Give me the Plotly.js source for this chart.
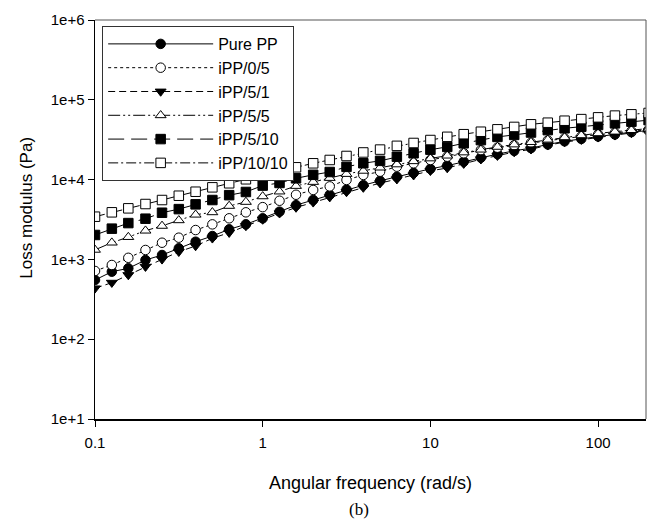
<!DOCTYPE html>
<html>
<head>
<meta charset="utf-8">
<script src="https://cdn.plot.ly/plotly-3.0.1.min.js"></script>
<style>html,body{margin:0;padding:0;background:#fff;}#chart{width:647px;height:520px;}</style>
</head>
<body>
<div id="chart"></div>
<script>
// Angular frequency (rad/s)
var freq = [0.1, 0.126, 0.158, 0.2, 0.251, 0.316, 0.398, 0.501, 0.631, 0.794,
            1, 1.26, 1.58, 2, 2.51, 3.16, 3.98, 5.01, 6.31, 7.94,
            10, 12.6, 15.8, 20, 25.1, 31.6, 39.8, 50.1, 63.1, 79.4,
            100, 126, 158, 200];

// Loss modulus (Pa)
var purePP = [552, 701, 773, 982, 1135, 1377, 1667, 1963, 2382, 2754,
              3273, 3963, 4786, 5559, 6457, 7499, 8511, 9661, 10840, 12160,
              13650, 14960, 16790, 18840, 20890, 22910, 24830, 27540, 30200, 32360,
              34670, 36730, 39360, 41210];
var iPP_0_5 = [716, 851, 1047, 1312, 1618, 1871, 2333, 2748, 3273, 3890,
               4519, 5433, 6457, 7413, 8222, 9886, 11430, 12560, 14520, 16000,
               17620, 19360, 21380, 23440, 25120, 26920, 28840, 30900, 32730, 34670,
               36730, 38460, 40270, 42170];
var iPP_5_1 = [434, 511, 637, 811, 1002, 1247, 1472, 1837, 2163, 2624,
               3162, 3784, 4467, 5188, 6026, 6998, 7943, 9016, 10120, 11350,
               12880, 13960, 15850, 17990, 19950, 22130, 23990, 26920, 29510, 31620,
               33880, 35890, 38460, 40270];
var iPP_5_5 = [1318, 1622, 1905, 2291, 2630, 3090, 3631, 3890, 4677, 5248,
               6166, 7079, 8318, 9333, 10470, 11750, 12880, 14130, 15490, 16980,
               18410, 19950, 21880, 23710, 25700, 27540, 29510, 31620, 33880, 35890,
               38020, 39810, 41690, 43650];
var iPP_5_10 = [2023, 2427, 2851, 3236, 3846, 4266, 4898, 5546, 6383, 6998,
                8414, 9078, 10380, 11480, 12450, 14450, 16030, 17180, 19360, 21380,
                23710, 25700, 28510, 31260, 34280, 36310, 38900, 41690, 43950, 46030,
                48310, 50700, 53210, 55590];
var iPP_10_10 = [3428, 3890, 4365, 4943, 5546, 6281, 7047, 7998, 8995, 10090,
                 11530, 12760, 14260, 16000, 17620, 19770, 21880, 23770, 26490, 28770,
                 31330, 34360, 37070, 39810, 42660, 45710, 49320, 51640, 54700, 57280,
                 60260, 63390, 65770, 68390];

var seriesNames = ['Pure PP', 'iPP/0/5', 'iPP/5/1', 'iPP/5/5', 'iPP/5/10', 'iPP/10/10'];
var yTickVals = [10, 100, 1000, 10000, 100000, 1000000];
var yTickText = ['1e+1', '1e+2', '1e+3', '1e+4', '1e+5', '1e+6'];
var xTickVals = [0.1, 1, 10, 100];
var xTickText = ['0.1', '1', '10', '100'];

var seriesData = [purePP, iPP_0_5, iPP_5_1, iPP_5_5, iPP_5_10, iPP_10_10];
var styles = [
  {dash: 'solid', symbol: 'circle', fill: '#000'},
  {dash: 'dot', symbol: 'circle', fill: '#fff'},
  {dash: '7px,4px', symbol: 'triangle-down', fill: '#000'},
  {dash: '12px,3px,2px,3px,2px,3px', symbol: 'triangle-up', fill: '#fff'},
  {dash: '16px,7px', symbol: 'square', fill: '#000'},
  {dash: '10px,3px,2px,3px', symbol: 'square', fill: '#fff'}
];

var traces = seriesData.map(function (ys, i) {
  return {
    x: freq, y: ys, name: seriesNames[i], type: 'scatter', mode: 'lines+markers',
    line: {color: '#000', width: 1, dash: styles[i].dash},
    marker: {symbol: styles[i].symbol, size: 9.5, color: styles[i].fill,
             line: {color: '#000', width: 1}},
    cliponaxis: true
  };
});

var font = 'Liberation Sans, Arial, sans-serif';
var layout = {
  width: 647, height: 520,
  margin: {l: 95, r: 1, t: 20, b: 101},
  paper_bgcolor: '#fff', plot_bgcolor: '#fff',
  font: {family: font, size: 15, color: '#000'},
  showlegend: true,
  legend: {x: 0.013, y: 0.985, xanchor: 'left', yanchor: 'top',
           bgcolor: '#fff', bordercolor: '#333', borderwidth: 1,
           font: {family: font, size: 16, color: '#000'}, itemwidth: 105,
           tracegroupgap: 0},
  xaxis: {type: 'log', range: [-1, 2.2856], showgrid: false, zeroline: false,
          showline: true, linecolor: '#000', linewidth: 1.5,
          ticks: 'outside', ticklen: 6, tickcolor: '#000', tickwidth: 1,
          tickvals: xTickVals, ticktext: xTickText, ticklabelstandoff: 3,
          tickfont: {family: font, size: 15}},
  yaxis: {type: 'log', range: [1, 6], showgrid: false, zeroline: false,
          showline: true, linecolor: '#000', linewidth: 1.5,
          ticks: 'outside', ticklen: 6, tickcolor: '#000', tickwidth: 1,
          tickvals: yTickVals, ticktext: yTickText,
          tickfont: {family: font, size: 15}},
  shapes: [
    {type: 'line', xref: 'paper', yref: 'paper', x0: 0, x1: 1, y0: 1, y1: 1,
     line: {color: '#555', width: 1}},
    {type: 'line', xref: 'paper', yref: 'paper', x0: 1, x1: 1, y0: 0, y1: 1,
     line: {color: '#555', width: 1}}
  ],
  annotations: [
    {text: 'Angular frequency (rad/s)', xref: 'paper', yref: 'paper', x: 0.5, y: -0.160,
     xanchor: 'center', yanchor: 'middle', showarrow: false,
     font: {family: font, size: 18, color: '#000'}},
    {text: 'Loss modulus (Pa)', xref: 'paper', yref: 'paper', x: -0.125, y: 0.530,
     xanchor: 'center', yanchor: 'middle', textangle: -90, showarrow: false,
     font: {family: font, size: 17, color: '#000'}},
    {text: '(b)', xref: 'paper', yref: 'paper', x: 0.48, y: -0.228, xanchor: 'center',
     yanchor: 'middle', showarrow: false,
     font: {family: 'Liberation Serif, Times New Roman, serif', size: 17, color: '#000'}}
  ]
};

Plotly.newPlot('chart', traces, layout, {displayModeBar: false, staticPlot: true});
</script>
</body>
</html>
